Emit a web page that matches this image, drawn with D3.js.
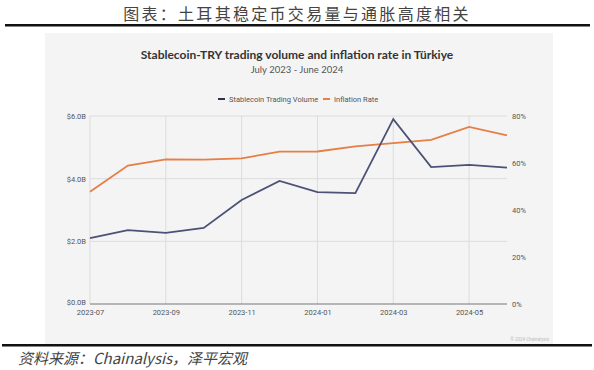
<!DOCTYPE html>
<html>
<head>
<meta charset="utf-8">
<style>
  body { margin: 0; background: #fff; }
  svg { display: block; }
</style>
</head>
<body>
<script src="https://cdn.jsdelivr.net/npm/d3@7"></script>
<script>
// data
var months = ["2023-07","2023-08","2023-09","2023-10","2023-11","2023-12",
              "2024-01","2024-02","2024-03","2024-04","2024-05","2024-06"];
var volume = [2.1, 2.36, 2.27, 2.43, 3.32, 3.93, 3.57, 3.54, 5.9, 4.37, 4.44, 4.35];   // $B
var inflation = [47.8, 58.9, 61.5, 61.4, 62.0, 64.8, 64.9, 67.1, 68.5, 69.8, 75.4, 71.8]; // %
var leftTicks = [0, 2, 4, 6];
var rightTicks = [0, 20, 40, 60, 80];
var xTickLabels = ["2023-07","2023-09","2023-11","2024-01","2024-03","2024-05"];

var w = 594, h = 370;
var svg = d3.select("body").append("svg").attr("width", w).attr("height", h);

// page title + rules
svg.append("text").attr("x", 297).attr("y", 20).attr("text-anchor", "middle")
  .attr("font-family", "Noto Sans CJK SC").attr("font-size", 16)
  .attr("letter-spacing", 2.3).attr("fill", "#444")
  .text("图表：土耳其稳定币交易量与通胀高度相关");
svg.append("rect").attr("x", 5).attr("y", 24).attr("width", 585).attr("height", 2.5).attr("fill", "#111");

// grey panel
svg.append("rect").attr("x", 45).attr("y", 33).attr("width", 508).attr("height", 311).attr("fill", "#f4f4f4");

svg.append("rect").attr("x", 2).attr("y", 344).attr("width", 590).attr("height", 2.5).attr("fill", "#111");
svg.append("text").attr("x", 18).attr("y", 364)
  .attr("font-family", "Noto Sans CJK SC").attr("font-size", 15).attr("font-style", "italic")
  .attr("fill", "#444").text("资料来源：Chainalysis，泽平宏观");

// chart title
svg.append("text").attr("x", 297).attr("y", 59).attr("text-anchor", "middle")
  .attr("font-family", "Lato").attr("font-weight", "bold").attr("font-size", 12)
  .attr("fill", "#333").text("Stablecoin-TRY trading volume and inflation rate in Türkiye");
svg.append("text").attr("x", 297).attr("y", 73).attr("text-anchor", "middle")
  .attr("font-family", "Lato").attr("font-size", 9.5)
  .attr("fill", "#555").text("July 2023 - June 2024");

// scales
var x = d3.scalePoint().domain(months).range([90, 507]);
var yL = d3.scaleLinear().domain([0, 6]).range([304, 116]);
var yR = d3.scaleLinear().domain([0, 80]).range([304, 116]);

// grid
svg.append("g").selectAll("line").data(leftTicks.slice(1)).enter().append("line")
  .attr("x1", 90).attr("x2", 507)
  .attr("y1", function(d) { return yL(d); }).attr("y2", function(d) { return yL(d); })
  .attr("stroke", "#dcdcdc").attr("stroke-width", 1);
svg.append("g").selectAll("line").data(xTickLabels).enter().append("line")
  .attr("x1", function(d) { return x(d); }).attr("x2", function(d) { return x(d); })
  .attr("y1", 116).attr("y2", 304)
  .attr("stroke", "#dcdcdc").attr("stroke-width", 1);

// axes
var axL = svg.append("g").attr("transform", "translate(90,0)")
  .call(d3.axisLeft(yL).tickValues(leftTicks).tickSize(0).tickPadding(4)
    .tickFormat(function(d) { return "$" + d3.format(".1f")(d) + "B"; }));
var axR = svg.append("g").attr("transform", "translate(507,0)")
  .call(d3.axisRight(yR).tickValues(rightTicks).tickSize(0).tickPadding(5)
    .tickFormat(function(d) { return d + "%"; }));
var axB = svg.append("g").attr("transform", "translate(0,304)")
  .call(d3.axisBottom(x).tickValues(xTickLabels).tickSize(0).tickPadding(6));
[axL, axR, axB].forEach(function(a) {
  a.selectAll("text").attr("font-family", "Roboto").attr("font-size", 7.5).attr("fill", "#555");
  a.select(".domain").remove();
});
// lift the $0.0B label a touch so it clears the first month label
axL.selectAll("text").filter(function(d) { return d === 0; }).attr("dy", "0.1em");
svg.append("line").attr("x1", 90).attr("x2", 507).attr("y1", 304).attr("y2", 304)
  .attr("stroke", "#777").attr("stroke-width", 1.2);

// lines
var lineV = d3.line().x(function(d, i) { return x(months[i]); }).y(function(d) { return yL(d); });
var lineI = d3.line().x(function(d, i) { return x(months[i]); }).y(function(d) { return yR(d); });
svg.append("path").datum(inflation).attr("d", lineI).attr("fill", "none")
  .attr("stroke", "#e67e45").attr("stroke-width", 1.8);
svg.append("path").datum(volume).attr("d", lineV).attr("fill", "none")
  .attr("stroke", "#4b5275").attr("stroke-width", 1.8);

// legend
var legend = [{name: "Stablecoin Trading Volume", color: "#2c3256", x: 218},
              {name: "Inflation Rate", color: "#e67e45", x: 323}];
var lg = svg.append("g").selectAll("g").data(legend).enter().append("g");
lg.append("rect").attr("x", function(d) { return d.x; }).attr("y", 98)
  .attr("width", 7).attr("height", 2).attr("fill", function(d) { return d.color; });
lg.append("text").attr("x", function(d) { return d.x + 11; }).attr("y", 102)
  .attr("font-family", "Roboto").attr("font-size", 7.5).attr("fill", "#555")
  .text(function(d) { return d.name; });

// watermark
svg.append("text").attr("x", 549).attr("y", 341).attr("text-anchor", "end")
  .attr("font-family", "Roboto").attr("font-size", 4.5).attr("fill", "#bbb")
  .text("© 2024 Chainalysis");
</script>
</body>
</html>
